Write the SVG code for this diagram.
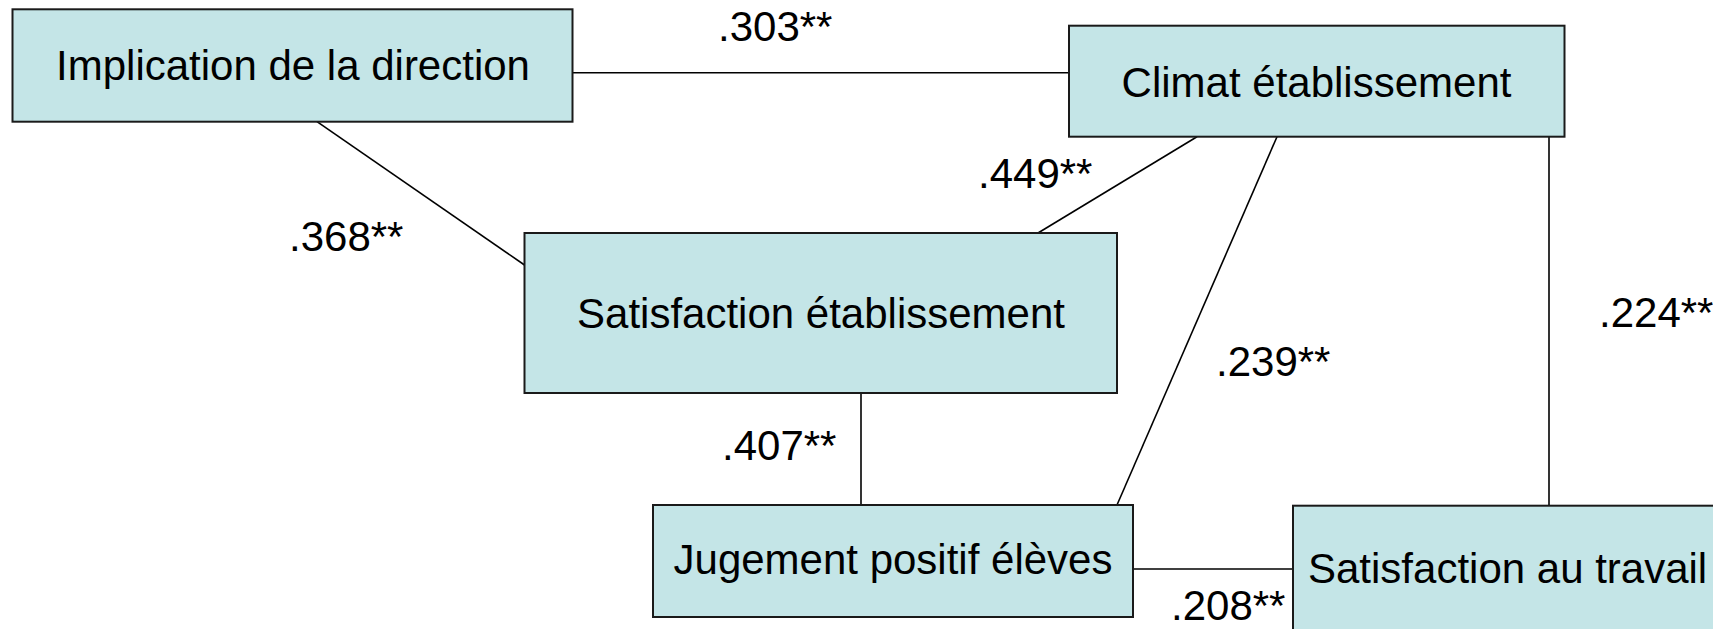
<svg xmlns="http://www.w3.org/2000/svg" width="1713" height="629" viewBox="0 0 1713 629">
<style>
.box{fill:#C4E5E7;stroke:#1a1a1a;stroke-width:2}
.lbl{font-family:"Liberation Sans",Arial,sans-serif;font-size:42px;fill:#000}
.c{text-anchor:middle}
.edge{stroke:#000;stroke-width:1.6;fill:none}
</style>
<rect x="0" y="0" width="1713" height="629" fill="#fff"/>
<g id="connectors">
<line class="edge" x1="572.5" y1="72.7" x2="1069" y2="72.7"/>
<line class="edge" x1="317" y1="121.7" x2="524.5" y2="265"/>
<line class="edge" x1="1197" y1="136.7" x2="1038" y2="233"/>
<line class="edge" x1="1277" y1="136.7" x2="1117" y2="505"/>
<line class="edge" x1="1549" y1="136.7" x2="1549" y2="505.7"/>
<line class="edge" x1="861" y1="393" x2="861" y2="505"/>
<line class="edge" x1="1133" y1="569" x2="1293" y2="569"/>
<text class="lbl" x="718" y="41">.303**</text>
<text class="lbl" x="289" y="251">.368**</text>
<text class="lbl" x="978" y="188">.449**</text>
<text class="lbl" x="1216" y="376">.239**</text>
<text class="lbl" x="1599" y="327">.224**</text>
<text class="lbl" x="722" y="460">.407**</text>
<text class="lbl" x="1171" y="620">.208**</text>
</g>
<g id="node-implication">
<rect class="box" x="12.5" y="9.3" width="560" height="112.4"/>
<text class="lbl c" x="293" y="80">Implication de la direction</text>
</g>
<g id="node-climat">
<rect class="box" x="1069" y="25.7" width="495.5" height="111"/>
<text class="lbl c" x="1316.5" y="96.5">Climat établissement</text>
</g>
<g id="node-satisfaction-etablissement">
<rect class="box" x="524.5" y="233" width="592.5" height="160"/>
<text class="lbl c" x="821" y="327.5">Satisfaction établissement</text>
</g>
<g id="node-jugement">
<rect class="box" x="653" y="505" width="480" height="112"/>
<text class="lbl c" x="893" y="574">Jugement positif élèves</text>
</g>
<g id="node-satisfaction-travail">
<rect class="box" x="1293" y="505.7" width="440" height="140"/>
<text class="lbl" x="1308" y="583">Satisfaction au travail</text>
</g>
</svg>
